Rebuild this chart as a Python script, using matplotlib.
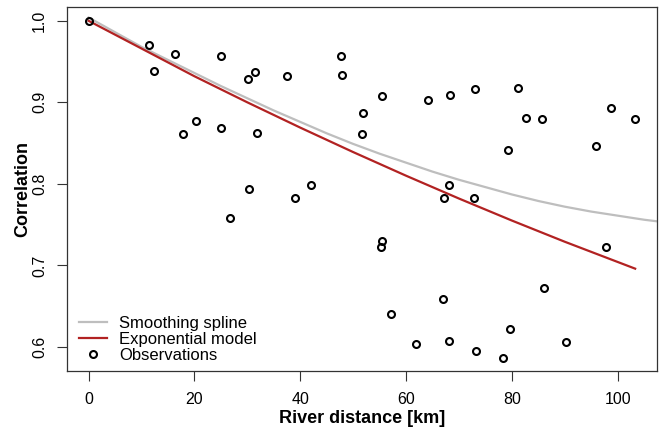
import numpy as np
import matplotlib
matplotlib.use("Agg")
import matplotlib.pyplot as plt

plt.rcParams["font.family"] = ["Liberation Sans", "DejaVu Sans"]

# observations
dist_km = [0.0, 11.5, 12.3, 16.4, 17.8, 20.3, 25.1, 25.0, 26.8, 30.2,
           31.4, 30.3, 31.9, 37.5, 39.1, 42.0, 47.8, 47.9, 51.6, 51.8,
           55.4, 55.4, 55.3, 57.2, 64.2, 66.9, 67.2, 68.1, 68.4, 68.2,
           61.8, 73.1, 72.8, 73.3, 78.3, 79.2, 79.6, 81.2, 82.7, 85.7,
           86.1, 90.3, 95.9, 97.8, 98.8, 103.3]
corr = [1.000, 0.970, 0.938, 0.959, 0.861, 0.877, 0.957, 0.869, 0.758, 0.928,
        0.937, 0.794, 0.862, 0.932, 0.783, 0.799, 0.957, 0.934, 0.861, 0.887,
        0.908, 0.730, 0.723, 0.641, 0.903, 0.659, 0.783, 0.798, 0.909, 0.607,
        0.604, 0.916, 0.783, 0.595, 0.587, 0.841, 0.622, 0.917, 0.881, 0.880,
        0.672, 0.606, 0.847, 0.722, 0.893, 0.879]

# smoothing spline
spline_x = [0, 5, 10, 15, 20, 25, 30, 35, 40, 45, 50, 55,
            60, 65, 70, 75, 80, 85, 90, 95, 100, 105, 110]
spline_y = [1.004, 0.986, 0.968, 0.952, 0.936, 0.920, 0.905, 0.890,
            0.876, 0.862, 0.849, 0.837, 0.826, 0.815, 0.805, 0.796,
            0.787, 0.779, 0.772, 0.766, 0.761, 0.756, 0.752]

# exponential model
expo_x = [0, 10, 20, 30, 40, 50, 60, 70, 80, 90, 103.3]
expo_y = [1.000, 0.966, 0.932, 0.900, 0.869, 0.839, 0.810, 0.782,
          0.755, 0.729, 0.696]

xticks = [0, 20, 40, 60, 80, 100]
yticks = [0.6, 0.7, 0.8, 0.9, 1.0]

fig = plt.figure(figsize=(6.59, 4.30), dpi=100)
ax = fig.add_axes([0.1012, 0.1372, 0.8958, 0.8458])

ax.plot(spline_x, spline_y, color="#BEBEBE", lw=1.6, label="Smoothing spline")
ax.plot(expo_x, expo_y, color="#B22222", lw=1.6, label="Exponential model")
ax.plot(dist_km, corr, "o", ms=5, mfc="none", mec="black", mew=1.5,
        label="Observations")

xr = max(dist_km) - min(dist_km)
yr = max(corr) - min(corr)
ax.set_xlim(min(dist_km) - 0.04 * xr, max(dist_km) + 0.04 * xr)
ax.set_ylim(min(corr) - 0.04 * yr, max(corr) + 0.04 * yr)

ax.set_xticks(xticks)
ax.set_yticks(yticks)
ax.set_yticklabels([f"{v:.1f}" for v in yticks], rotation=90, va="center")
ax.tick_params(axis="both", length=7, width=0.8, labelsize=11.5,
               color="#333333")
ax.tick_params(axis="x", pad=8)
ax.tick_params(axis="y", pad=7)

for s in ax.spines.values():
    s.set_color("#333333")
    s.set_linewidth(0.9)

ax.set_xlabel("River distance [km]", fontsize=13, fontweight="bold", labelpad=2)
ax.set_ylabel("Correlation", fontsize=13, fontweight="bold", labelpad=1)

ax.legend(loc="lower left", bbox_to_anchor=(0.007, 0.0), frameon=False,
          fontsize=12, handlelength=1.7, handletextpad=0.7, labelspacing=0.05,
          borderpad=0.3, borderaxespad=0.2)

fig.savefig("out.png", dpi=100)
